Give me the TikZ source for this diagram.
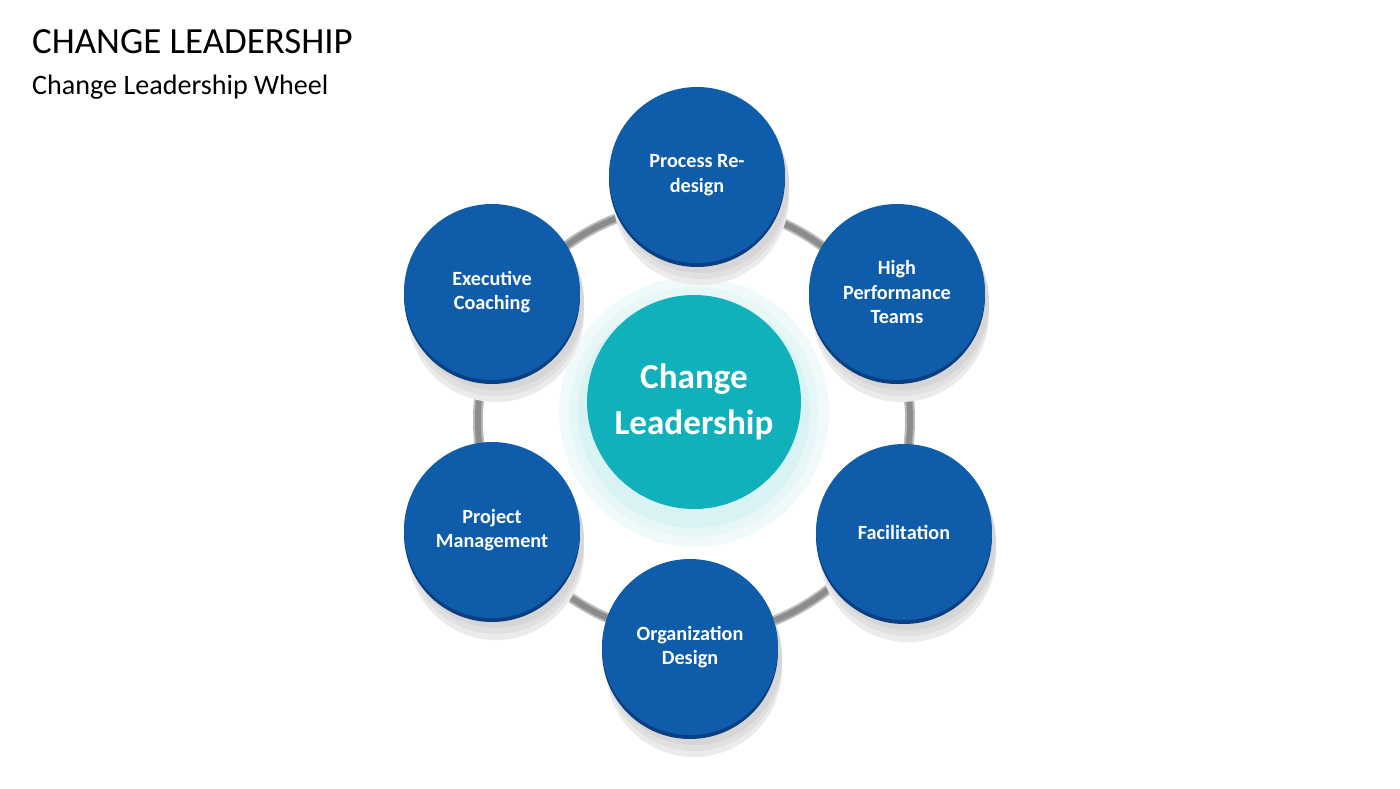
\documentclass[tikz,border=0pt]{standalone}
\usepackage{fontspec}
\setmainfont{Carlito}
\definecolor{wheelblue}{HTML}{0F5DAA}
\definecolor{wheeldark}{HTML}{0A3F82}
\definecolor{hubteal}{HTML}{10B1BA}
\definecolor{ringgray}{HTML}{8C8C8C}
\tikzset{
  spoke/.style={circle, minimum size=176\px, fill=wheelblue, text=white,
    font=\fontsize{11.5}{14}\selectfont\bfseries, align=center, inner sep=0pt},
}
\newlength{\px}\setlength{\px}{0.02cm}
\begin{document}
\begin{tikzpicture}[x=0.02cm, y=-0.02cm]
\useasboundingbox (0,0) rectangle (1400,788);
% Title
\node[anchor=west, font=\fontsize{21}{24}\selectfont] (title) at (26,42) {CHANGE LEADERSHIP};
\node[anchor=west, font=\fontsize{16}{19}\selectfont] (subtitle) at (26,87) {Change Leadership Wheel};

% Ring
\draw[ringgray!60, line width=10\px] (694,420) circle (216);
\draw[ringgray, line width=6\px] (694,420) circle (216);

% Center glow and hub
\foreach \r/\o in {135/6, 125/10, 116/16} {
  \fill[hubteal!\o] (694,412) circle (\r);
}
\node[circle, minimum size=214\px, fill=hubteal, text=white, align=center,
  font=\fontsize{20}{26}\selectfont\bfseries] (hub) at (694,402) {Change\\Leadership};

% Spokes
\foreach \n/\x/\y/\t in {pr/697/175/{Process Re-\\design},
  hp/897/292/{High\\Performance\\Teams},
  fa/904/532/{Facilitation},
  od/690/647/{Organization\\Design},
  pm/492/530/{Project\\Management},
  ec/492/292/{Executive\\Coaching}} {
  \foreach \s/\o in {22/8, 16/12, 10/16} {
    \fill[black!\o] (\x+4,\y+\s) circle (88);
  }
  \fill[wheeldark] (\x,\y+4) circle (88);
  \node[spoke] (\n) at (\x,\y) {\t};
}
\end{tikzpicture}
\end{document}
